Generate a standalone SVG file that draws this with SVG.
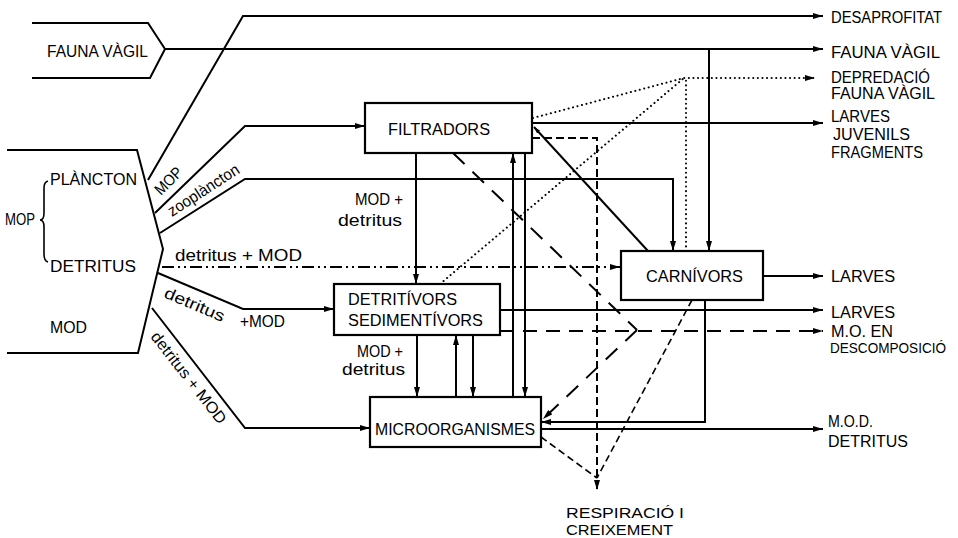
<svg xmlns="http://www.w3.org/2000/svg" width="958" height="538" viewBox="0 0 958 538">
<defs>
<style>
.ln{fill:none;stroke:#000;stroke-width:2}
.dd{stroke-dasharray:12 4 2 4 2 4}
.ld{stroke-dasharray:16 11}
.md{stroke-dasharray:14 9}
.vd{stroke-dasharray:8 4}
.sd{stroke-dasharray:7 4;stroke-width:1.6}
.dot{stroke-dasharray:0.1 4.5;stroke-linecap:round;stroke-width:2}
.box{fill:#fff;stroke:#000;stroke-width:2.2}
text{font-family:"Liberation Sans",Arial,sans-serif;font-size:16px;fill:#000}
.lc{font-size:16px}
.sm{font-size:14px}
</style>
<marker id="arr" viewBox="0 0 10 6" refX="10" refY="3" markerWidth="10" markerHeight="6" markerUnits="userSpaceOnUse" orient="auto">
<path d="M0,0 L10,3 L0,6 z" fill="#000" stroke="none"/>
</marker>
<marker id="arrs" viewBox="0 0 10 6" refX="10" refY="3" markerWidth="7" markerHeight="5" markerUnits="userSpaceOnUse" orient="auto">
<path d="M0,0 L10,3 L0,6 z" fill="#000" stroke="none"/>
</marker>
</defs>
<rect width="958" height="538" fill="#fff"/>

<g id="connectors">
<path class="ln" d="M148,180 L243,16 L823,16" marker-end="url(#arr)"/>
<path class="ln" d="M165,49 L823,49" marker-end="url(#arr)"/>
<path class="ln" d="M709,49 L709,251" marker-end="url(#arr)"/>
<path class="ln" d="M155,213 L245,126 L365,126" marker-end="url(#arr)"/>
<path class="ln" d="M160,233 L245,179 L673,179 L673,251" marker-end="url(#arr)"/>
<path class="ln dd" d="M162,267 L620,267" marker-end="url(#arr)"/>
<path class="ln" d="M158,273 L243,309 L334,309" marker-end="url(#arr)"/>
<path class="ln" d="M152,308 L245,428 L370,428" marker-end="url(#arr)"/>
<path class="ln" d="M416,153 L416,284" marker-end="url(#arr)"/>
<path class="ln" d="M417,335 L417,397" marker-end="url(#arr)"/>
<path class="ln" d="M456,397 L456,335" marker-end="url(#arr)"/>
<path class="ln" d="M473,335 L473,397" marker-end="url(#arr)"/>
<path class="ln" d="M513,397 L513,153" marker-end="url(#arr)"/>
<path class="ln" d="M525,153 L525,397" marker-end="url(#arr)"/>
<path class="ln" d="M532,123 L823,123" marker-end="url(#arr)"/>
<path class="ln dot" d="M533,118 L684,78 L815,78" marker-end="url(#arr)"/>
<path class="ln dot" d="M440,284 L684,78"/>
<path class="ln dot" d="M686,251 L686,80"/>
<path class="ln" d="M648,251 L534,127" marker-end="url(#arrs)"/>
<path class="ln vd" d="M532,138 L597,138 L597,490" marker-end="url(#arr)"/>
<path class="ln ld" d="M453,153 L637,330"/>
<path class="ln ld" d="M637,330 L543,419" marker-end="url(#arr)"/>
<path class="ln md" d="M500,331 L823,331" marker-end="url(#arr)"/>
<path class="ln" d="M500,310 L823,310" marker-end="url(#arr)"/>
<path class="ln" d="M763,276 L823,276" marker-end="url(#arr)"/>
<path class="ln" d="M705,300 L705,422 L541,422" marker-end="url(#arr)"/>
<path class="ln" d="M541,429 L823,429" marker-end="url(#arr)"/>
<path class="ln sd" d="M692,300 L597,478"/>
<path class="ln sd" d="M541,437 L597,478"/>
<text transform="translate(161,196) rotate(-45)" textLength="32" lengthAdjust="spacingAndGlyphs">MOP</text>
<text class="lc" transform="translate(172,217) rotate(-33)" textLength="82" lengthAdjust="spacingAndGlyphs">zooplàncton</text>
<text class="lc" x="175" y="261" textLength="127" lengthAdjust="spacingAndGlyphs">detritus + MOD</text>
<text class="lc" transform="translate(163,297) rotate(23)" textLength="64" lengthAdjust="spacingAndGlyphs">detritus</text>
<text x="240" y="327" textLength="45" lengthAdjust="spacingAndGlyphs">+MOD</text>
<text class="lc" transform="translate(150,337) rotate(52)" textLength="112" lengthAdjust="spacingAndGlyphs">detritus + MOD</text>
<text x="355" y="205" textLength="48" lengthAdjust="spacingAndGlyphs">MOD +</text>
<text class="lc" x="338" y="226" textLength="64" lengthAdjust="spacingAndGlyphs">detritus</text>
<text x="357" y="357" textLength="46" lengthAdjust="spacingAndGlyphs">MOD +</text>
<text class="lc" x="342" y="375" textLength="63" lengthAdjust="spacingAndGlyphs">detritus</text>
</g>

<g id="src-fauna-vagil">
<path class="ln" d="M32,23 L148,23 L165,49 L150,78 L32,78"/>
<text x="47" y="57" textLength="101" lengthAdjust="spacingAndGlyphs">FAUNA VÀGIL</text>
</g>

<g id="src-mop-mod">
<path class="ln" d="M7,150 L137,150 L163,249 L138,353 L7,353"/>
<path class="ln" style="stroke-width:1.6" d="M48,181 Q44,182 44,188 L44,213 Q44,220 40,220 Q44,220 44,227 L44,254 Q44,261 48,262"/>
<text x="50" y="185" textLength="87" lengthAdjust="spacingAndGlyphs">PLÀNCTON</text>
<text x="5" y="225" textLength="30" lengthAdjust="spacingAndGlyphs">MOP</text>
<text x="50" y="272" textLength="86" lengthAdjust="spacingAndGlyphs">DETRITUS</text>
<text x="50" y="333" textLength="37" lengthAdjust="spacingAndGlyphs">MOD</text>
</g>

<g id="filtradors">
<rect class="box" x="365" y="103" width="167" height="50"/>
<text x="388" y="135" textLength="102" lengthAdjust="spacingAndGlyphs">FILTRADORS</text>
</g>

<g id="detritivors">
<rect class="box" x="334" y="284" width="166" height="51"/>
<text x="348" y="305" textLength="109" lengthAdjust="spacingAndGlyphs">DETRITÍVORS</text>
<text x="348" y="326" textLength="135" lengthAdjust="spacingAndGlyphs">SEDIMENTÍVORS</text>
</g>

<g id="microorganismes">
<rect class="box" x="370" y="397" width="171" height="50"/>
<text x="375" y="435" textLength="160" lengthAdjust="spacingAndGlyphs">MICROORGANISMES</text>
</g>

<g id="carnivors">
<rect class="box" x="621" y="251" width="142" height="49"/>
<text x="646" y="282" textLength="97" lengthAdjust="spacingAndGlyphs">CARNÍVORS</text>
</g>

<g id="outputs">
<text x="831" y="23" textLength="111" lengthAdjust="spacingAndGlyphs">DESAPROFITAT</text>
<text x="831" y="58" textLength="109" lengthAdjust="spacingAndGlyphs">FAUNA VÀGIL</text>
<text x="831" y="83" textLength="99" lengthAdjust="spacingAndGlyphs">DEPREDACIÓ</text>
<text x="831" y="99" textLength="104" lengthAdjust="spacingAndGlyphs">FAUNA VÀGIL</text>
<text x="831" y="122" textLength="59" lengthAdjust="spacingAndGlyphs">LARVES</text>
<text x="833" y="140" textLength="77" lengthAdjust="spacingAndGlyphs">JUVENILS</text>
<text x="831" y="158" textLength="92" lengthAdjust="spacingAndGlyphs">FRAGMENTS</text>
<text x="831" y="282" textLength="64" lengthAdjust="spacingAndGlyphs">LARVES</text>
<text x="831" y="318" textLength="64" lengthAdjust="spacingAndGlyphs">LARVES</text>
<text x="831" y="337" textLength="62" lengthAdjust="spacingAndGlyphs">M.O. EN</text>
<text class="sm" x="830" y="353" textLength="116" lengthAdjust="spacingAndGlyphs">DESCOMPOSICIÓ</text>
<text x="828" y="427" textLength="45" lengthAdjust="spacingAndGlyphs">M.O.D.</text>
<text x="828" y="447" textLength="80" lengthAdjust="spacingAndGlyphs">DETRITUS</text>
<text class="sm" x="566" y="518" textLength="118" lengthAdjust="spacingAndGlyphs">RESPIRACIÓ  I</text>
<text class="sm" x="566" y="535" textLength="107" lengthAdjust="spacingAndGlyphs">CREIXEMENT</text>
</g>
</svg>
